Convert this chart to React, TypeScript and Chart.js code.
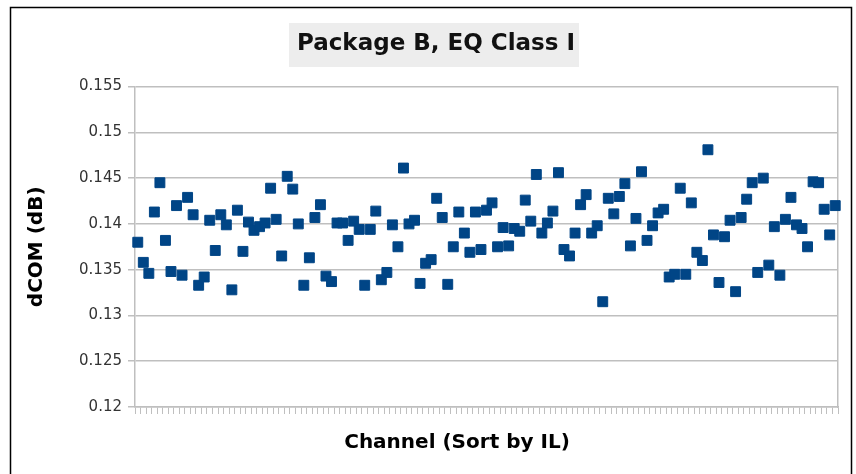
import React, { useEffect, useRef } from "react";
import { Chart, registerables } from "chart.js";

Chart.register(...registerables);

const chartTitle = "Package B, EQ Class I";
const yAxisTitle = "dCOM (dB)";
const xAxisTitle = "Channel (Sort by IL)";

const yMin = 0.12;
const yMax = 0.155;
const yStep = 0.005;

// dCOM per channel, channels sorted by insertion loss
const dcomValues = [
  0.1380, 0.1358, 0.1346, 0.1413, 0.1445, 0.1382, 0.1348, 0.1420, 0.1344, 0.1429,
  0.1410, 0.1333, 0.1342, 0.1404, 0.1371, 0.1410, 0.1399, 0.1328, 0.1415, 0.1370,
  0.1402, 0.1393, 0.1397, 0.1401, 0.1439, 0.1405, 0.1365, 0.1452, 0.1438, 0.1400,
  0.1333, 0.1363, 0.1407, 0.1421, 0.1343, 0.1337, 0.1401, 0.1401, 0.1382, 0.1403,
  0.1394, 0.1333, 0.1394, 0.1414, 0.1339, 0.1347, 0.1399, 0.1375, 0.1461, 0.1400,
  0.1404, 0.1335, 0.1357, 0.1361, 0.1428, 0.1407, 0.1334, 0.1375, 0.1413, 0.1390,
  0.1369, 0.1413, 0.1372, 0.1415, 0.1423, 0.1375, 0.1396, 0.1376, 0.1395, 0.1392,
  0.1426, 0.1403, 0.1454, 0.1390, 0.1401, 0.1414, 0.1456, 0.1372, 0.1365, 0.1390,
  0.1421, 0.1432, 0.1390, 0.1398, 0.1315, 0.1428, 0.1411, 0.1430, 0.1444, 0.1376,
  0.1406, 0.1457, 0.1382, 0.1398, 0.1412, 0.1416, 0.1342, 0.1345, 0.1439, 0.1345,
  0.1423, 0.1369, 0.1360, 0.1481, 0.1388, 0.1336, 0.1386, 0.1404, 0.1326, 0.1407,
  0.1427, 0.1445, 0.1347, 0.1450, 0.1355, 0.1397, 0.1344, 0.1405, 0.1429, 0.1399,
  0.1395, 0.1375, 0.1446, 0.1445, 0.1416, 0.1388, 0.1420,
];

const channelLabels = dcomValues.map((_, i) => String(i + 1));

const FONT = "'DejaVu Sans', 'Liberation Sans', sans-serif";
const GRID = "#bfbfbf";
const MARKER = "#004586";

const decorPlugin = {
  id: "decor",
  beforeDraw(chart: any) {
    const { ctx, width, height } = chart;
    ctx.save();
    ctx.fillStyle = "#ffffff";
    ctx.fillRect(0, 0, width, height);
    // outer frame
    ctx.strokeStyle = "#000000";
    ctx.lineWidth = 1.5;
    ctx.strokeRect(10.5, 7.5, 841, height + 10);
    // title background box
    const tb = chart.titleBlock;
    if (tb) {
      const cx = (tb.left + tb.right) / 2;
      ctx.font = `bold 23px ${FONT}`;
      const w = ctx.measureText(chartTitle).width;
      ctx.fillStyle = "#ededed";
      ctx.fillRect(cx - w / 2 - 8, 23, w + 12, 44);
    }
    ctx.restore();
  },
  afterDraw(chart: any) {
    const { ctx } = chart;
    ctx.save();
    ctx.font = `bold 20px ${FONT}`;
    ctx.fillStyle = "#000000";
    ctx.textAlign = "center";
    ctx.textBaseline = "middle";
    ctx.fillText(xAxisTitle, 457, 443);
    ctx.restore();
  },
};

export default function App() {
  const canvasRef = useRef<HTMLCanvasElement | null>(null);

  useEffect(() => {
    document.body.style.margin = "0";
    const canvas = canvasRef.current;
    if (!canvas) return;
    const chart = new Chart(canvas, {
      type: "line",
      data: {
        labels: channelLabels,
        datasets: [
          {
            label: "dCOM",
            data: dcomValues,
            showLine: false,
            pointStyle: "rect",
            pointRadius: 7,
            pointHoverRadius: 7,
            pointBackgroundColor: MARKER,
            pointBorderColor: MARKER,
            pointBorderWidth: 1,
            borderColor: MARKER,
            backgroundColor: MARKER,
          },
        ],
      },
      options: {
        animation: false,
        responsive: false,
        maintainAspectRatio: false,
        layout: { padding: { left: 16, right: 0, top: 0, bottom: 0 } },
        plugins: {
          legend: { display: false },
          tooltip: { enabled: false },
          title: {
            display: true,
            text: chartTitle,
            color: "#111111",
            font: { family: FONT, size: 23, weight: "bold" },
            padding: { top: 30, bottom: 29 },
          },
        },
        scales: {
          x: {
            type: "category",
            offset: true,
            grid: {
              display: true,
              drawOnChartArea: false,
              drawTicks: true,
              tickLength: 7,
              color: GRID,
              lineWidth: 1,
              offset: true,
            },
            border: { display: true, color: GRID, width: 1.5 },
            ticks: {
              autoSkip: false,
              maxRotation: 0,
              font: { size: 1 },
              padding: 0,
              callback: () => "",
            },
            afterFit: (scale: any) => {
              scale.height = 67;
            },
          },
          y: {
            min: yMin,
            max: yMax,
            grid: {
              color: GRID,
              lineWidth: 1.5,
              drawTicks: true,
              tickLength: 7,
            },
            border: { display: true, color: GRID, width: 1.5 },
            ticks: {
              stepSize: yStep,
              padding: 6,
              color: "#333333",
              font: { family: FONT, size: 15 },
              callback: (v: any) => String(Number(Number(v).toFixed(3))),
            },
            title: {
              display: true,
              text: yAxisTitle,
              color: "#000000",
              font: { family: FONT, size: 20, weight: "bold" },
              padding: { top: 9, bottom: 0 },
            },
            afterFit: (scale: any) => {
              scale.width = 119;
            },
          },
          yRight: {
            position: "right",
            display: true,
            grid: { display: false },
            border: { display: true, color: GRID, width: 1.5 },
            ticks: { display: false },
            afterFit: (scale: any) => {
              scale.width = 18;
            },
          },
        },
      },
      plugins: [decorPlugin],
    } as any);
    return () => chart.destroy();
  }, []);

  return (
    <div style={{ position: "absolute", left: 0, top: 0, width: 856, height: 474 }}>
      <canvas ref={canvasRef} width={856} height={474} style={{ width: 856, height: 474 }} />
    </div>
  );
}
